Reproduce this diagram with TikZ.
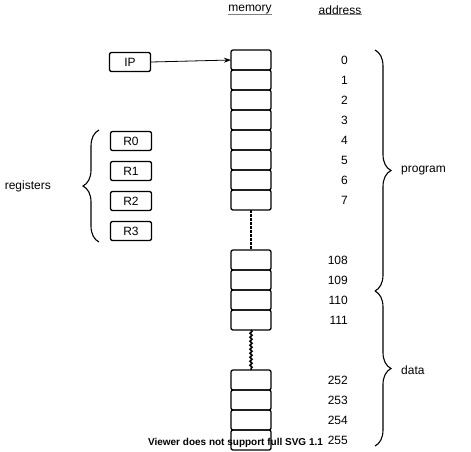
\documentclass[tikz,border=0pt]{standalone}
\usepackage{fontspec}
\setmainfont{Liberation Sans}
\usetikzlibrary{arrows.meta,decorations.pathreplacing,decorations.pathmorphing}
\begin{document}
\begin{tikzpicture}[x=1pt,y=-1pt,
 cell/.style={draw,line width=1.3pt,rounded corners=2pt,minimum width=40pt,minimum height=20pt,inner sep=0pt,outer sep=0pt},
 reg/.style={draw,line width=1.3pt,rounded corners=2pt,minimum width=41pt,minimum height=19pt,inner sep=0pt,font=\fontsize{12}{14}\selectfont},
 lbl/.style={font=\fontsize{12}{14}\selectfont,inner sep=0pt},
 addr/.style={lbl,anchor=east},
 hdr/.style={lbl},
 uline/.style={gray,line width=1.2pt},
 brc/.style={decorate,decoration={brace,amplitude=16pt},line width=1.1pt}]
\useasboundingbox (0,0) rectangle (471,451);
% headers
\node[hdr] (hm) at (250,10) {memory};
\node[hdr] (ha) at (340,10) {address};
\draw[uline] (hm.south west) -- (hm.south east);
\draw[uline] (ha.south west) -- (ha.south east);
% memory cells
\foreach \n/\y in {0/60,1/80,2/100,3/120,4/140,5/160,6/180,7/200,108/260,109/280,110/300,111/320,252/380,253/400,254/420,255/440}{
  \node[cell] (m\n) at (251,\y) {};
  \node[addr] (a\n) at (348,\y) {\n};
}
\draw[line width=2.4pt,dash pattern=on 2.5pt off 1.5pt] (m7.south) -- (m108.north);
\draw[line width=1.5pt,decorate,decoration={snake,amplitude=1pt,segment length=4pt}] (m111.south) -- (m252.north);
% IP
\node[reg] (ip) at (130,62) {IP};
\draw[-{Stealth[length=7pt,width=5pt]},line width=0.8pt] (ip.east) -- (m0.west);
% registers
\node[reg] (r0) at (131,141) {R0};
\node[reg] (r1) at (131,171) {R1};
\node[reg] (r2) at (131,201) {R2};
\node[reg] (r3) at (131,231) {R3};
\coordinate (rb1) at (99,242);
\coordinate (rb2) at (99,130);
\draw[brc] (rb1) -- (rb2);
\node[lbl,anchor=east] (regs) at (51,186) {registers};
% right braces
\coordinate (pb1) at (375,50);
\coordinate (pb2) at (375,291);
\coordinate (pb3) at (375,446);
\draw[brc] (pb1) -- (pb2);
\draw[brc] (pb2) -- (pb3);
\node[lbl,anchor=west] (prog) at (401,171) {program};
\node[lbl,anchor=west] (data) at (401,370) {data};
% viewer text
\node[inner sep=0pt,font=\bfseries\fontsize{10}{12}\selectfont] (viewer) at (235.5,443) {Viewer does not support full SVG 1.1};
\end{tikzpicture}
\end{document}
